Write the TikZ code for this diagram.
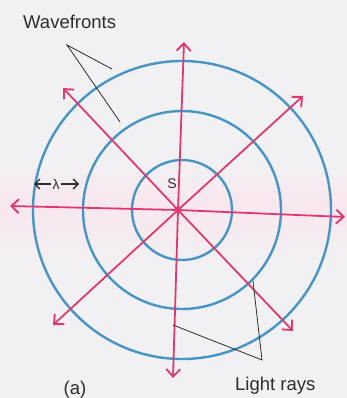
\documentclass[tikz,border=0pt]{standalone}
\usepackage{fontspec}
\setmainfont{Liberation Sans}
\usetikzlibrary{arrows.meta}
\definecolor{wave}{RGB}{72,148,196}
\definecolor{ray}{RGB}{222,58,112}
\definecolor{ink}{RGB}{45,45,45}
\definecolor{bg}{RGB}{241,241,243}
\definecolor{band}{RGB}{248,231,238}
\begin{document}
\begin{tikzpicture}[x=1pt,y=-1pt,
  wavefront/.style={draw=wave,line width=2.4pt},
  lightray/.style={draw=ray,line width=1.8pt,
    {Straight Barb[length=7.5pt,width=14pt,line width=1.9pt]}-{Straight Barb[length=7.5pt,width=14pt,line width=1.9pt]}},
  pointer/.style={draw=ink,line width=0.8pt},
  lbl/.style={text=ink,font=\fontsize{18.5}{20}\selectfont,inner sep=0pt},
  lamarrow/.style={draw=ink,line width=1.3pt,-{Straight Barb[length=5pt,width=10pt,line width=1.3pt]}}]
\useasboundingbox (0,0) rectangle (347,398);
\fill[bg] (0,0) rectangle (347,398);
\shade[top color=bg,bottom color=band] (0,160) rectangle (347,205);
\shade[top color=band,bottom color=bg] (0,205) rectangle (347,270);
% wavefronts
\coordinate (C) at (182,210);
\draw[wavefront] (C) circle[radius=50];
\draw[wavefront] (C) circle[radius=99];
\draw[wavefront] (C) circle[radius=149];
% rays
\coordinate (S) at (178,210);
\coordinate (rN) at (184,42);
\coordinate (rS) at (173,378);
\coordinate (rW) at (10,206);
\coordinate (rE) at (345,217);
\coordinate (rNW) at (63,88);
\coordinate (rSE) at (293,331);
\coordinate (rNE) at (303,96);
\coordinate (rSW) at (53,325);
\draw[lightray] (rN) -- (S) -- (rS);
\draw[lightray] (rW) -- (S) -- (rE);
\draw[lightray] (rNW) -- (S) -- (rSE);
\draw[lightray] (rNE) -- (S) -- (rSW);
\fill[ray] (S) circle[radius=3.5];
\node[lbl,font=\fontsize{14}{16}\selectfont] (slabel) at (172,184) {S};
% lambda
\node[lbl,font=\fontsize{14}{16}\selectfont,inner xsep=1pt] (lam) at (56,184) {λ};
\coordinate (lamL) at (34,184);
\coordinate (lamR) at (79,184);
\draw[lamarrow] (lam.west) -- (lamL);
\draw[lamarrow] (lam.east) -- (lamR);
% labels
\node[lbl,anchor=west] (wf) at (23,22) {Wavefronts};
\coordinate (wa) at (67,45);
\coordinate (wb) at (112,69);
\coordinate (wc) at (120,122);
\draw[pointer] (wb) -- (wa) -- (wc);
\node[lbl,anchor=west] (lr) at (235,386) {Light rays};
\coordinate (la) at (262,360);
\coordinate (lb) at (173,325);
\coordinate (lc) at (253,281);
\draw[pointer] (lb) -- (la) -- (lc);
\node[lbl] (fig) at (75,390) {(a)};
\end{tikzpicture}
\end{document}
